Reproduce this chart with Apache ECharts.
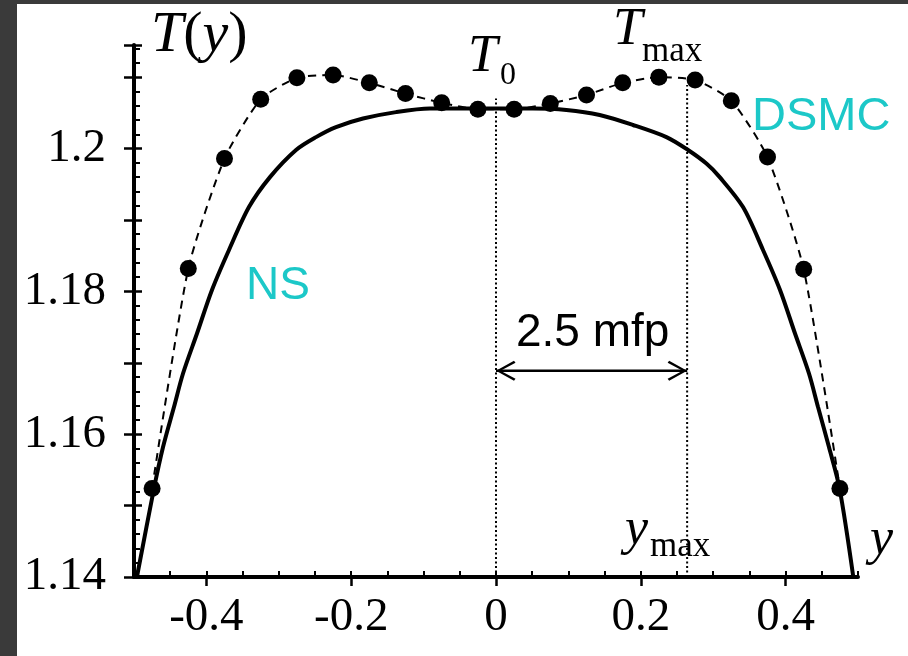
<!DOCTYPE html>
<html><head><meta charset="utf-8">
<script src="https://cdn.jsdelivr.net/npm/echarts@6/dist/echarts.min.js"></script>
<style>html,body{margin:0;padding:0;background:#fff}#c{width:908px;height:656px}</style>
</head><body><div id="c"></div>
<script>
// DSMC points
const dsmcX = [-0.475,-0.425,-0.375,-0.325,-0.275,-0.225,-0.175,-0.125,-0.075,-0.025,0.025,0.075,0.125,0.175,0.225,0.275,0.325,0.375,0.425,0.475];
const dsmcT = [1.1524,1.1832,1.1986,1.2069,1.2099,1.2103,1.2092,1.2077,1.2064,1.2055,1.2055,1.2063,1.2075,1.2092,1.2100,1.2096,1.2067,1.1988,1.1831,1.1524];
// Navier-Stokes curve
const nsX = [-0.496,-0.4724,-0.4599,-0.4448,-0.4323,-0.4130,-0.3923,-0.3688,-0.3412,-0.3122,-0.2762,-0.2486,-0.2210,-0.1837,-0.1381,-0.0912,-0.0456,0.0,0.0507,0.0972,0.1432,0.1892,0.2354,0.2652,0.2906,0.3090,0.3412,0.3688,0.3923,0.4130,0.4323,0.4448,0.4599,0.4745,0.4935];
const nsT = [1.1400,1.1524,1.1582,1.1638,1.1685,1.1741,1.1802,1.1858,1.1918,1.1960,1.1998,1.2016,1.2030,1.2042,1.2051,1.2056,1.2056,1.2056,1.2056,1.2054,1.2047,1.2033,1.2016,1.1998,1.1979,1.1960,1.1918,1.1858,1.1802,1.1741,1.1685,1.1638,1.1582,1.1524,1.1400];
// dotted guide lines and arrow
const t0LineX = [0,0];        const t0LineT = [1.14,1.2070];
const ymaxLineX = [0.264,0.264]; const ymaxLineT = [1.14,1.2089];
const arrowX = [0,0.264];     const arrowT = [1.1689,1.1689];
// tick labels
const xTickLabels = [-0.4,-0.2,0,0.2,0.4];
const yTickLabels = [1.14,1.16,1.18,1.2];

const pairs = (a,b) => a.map((v,i)=>[v,b[i]]);
const serif = 'Liberation Serif';
const cyan = '#1CC8C8';
// open chevron, tip at the centre of its box
const chevron = 'path://M0,0 L10,18 L8,19.5 L0,4.5 L-8,19.5 L-10,18 Z M0,-19.5 L0.01,-19.5 L0,-19.49 Z';

const chart = echarts.init(document.getElementById('c'), null, {renderer:'canvas'});
const baseX = {type:'value', min:-0.5, max:0.5, position:'bottom', splitLine:{show:false}};
const baseY = {type:'value', min:1.14, max:1.2145, position:'left', splitLine:{show:false}};
chart.setOption({
  animation:false,
  backgroundColor:'#fff',
  grid:{left:134, top:45, width:724, height:532, containLabel:false},
  xAxis:[
    Object.assign({}, baseX, {interval:0.05,
      axisLine:{onZero:false, lineStyle:{color:'#000', width:4}},
      axisTick:{inside:true, length:6, lineStyle:{color:'#000', width:2}},
      axisLabel:{show:false}}),
    Object.assign({}, baseX, {offset:0,
      axisLine:{show:false, onZero:false},
      axisTick:{show:true, inside:false, length:9, customValues:xTickLabels, lineStyle:{color:'#000', width:2.5}},
      axisLabel:{show:true, customValues:xTickLabels, margin:17, color:'#000', fontFamily:serif, fontSize:47,
        formatter:v=>String(Math.round(v*10)/10)}})
  ],
  yAxis:[
    Object.assign({}, baseY, {interval:0.01,
      axisLine:{onZero:false, lineStyle:{color:'#000', width:4}},
      axisTick:{inside:true, length:8, lineStyle:{color:'#000', width:2.5}},
      minorTick:{show:true, splitNumber:5, length:6, lineStyle:{color:'#000', width:2}},
      axisLabel:{show:false}}),
    Object.assign({}, baseY, {interval:0.01, offset:0,
      axisLine:{show:false, onZero:false},
      axisTick:{show:true, inside:false, length:10, lineStyle:{color:'#000', width:2.5}},
      axisLabel:{show:true, customValues:yTickLabels, margin:28, color:'#000', fontFamily:serif, fontSize:47,
        formatter:v=>String(Math.round(v*100)/100)}})
  ],
  series:[
    {type:'line', name:'t0', data:pairs(t0LineX,t0LineT), symbol:'none', silent:true,
      lineStyle:{color:'#000', width:2, type:[2,2.5]}},
    {type:'line', name:'ymax', data:pairs(ymaxLineX,ymaxLineT), symbol:'none', silent:true,
      lineStyle:{color:'#000', width:2, type:[2,2.5]}},
    {type:'line', name:'NS', data:pairs(nsX,nsT), symbol:'none', smooth:0.3,
      lineStyle:{color:'#000', width:4}},
    {type:'line', name:'DSMC', data:pairs(dsmcX,dsmcT), symbol:'circle', symbolSize:17, smooth:0.2,
      itemStyle:{color:'#000'}, lineStyle:{color:'#000', width:2, type:[8,6]}},
    {type:'line', name:'arrow', data:pairs(arrowX,arrowT), symbol:'none', silent:true,
      lineStyle:{color:'#000', width:2.2},
      markLine:{silent:true, symbol:[chevron, chevron], symbolSize:[20,39], label:{show:false},
        lineStyle:{color:'#000', width:2.2, type:'solid'},
        data:[[{coord:[arrowX[0],arrowT[0]]},{coord:[arrowX[1],arrowT[1]]}]]}}
  ],
  graphic:[
    {type:'rect', shape:{x:0,y:0,width:17,height:656}, style:{fill:'#3a3a3a'}, silent:true},
    {type:'rect', shape:{x:0,y:0,width:908,height:4}, style:{fill:'#3a3a3a'}, silent:true},
    {type:'text', x:151, y:36, style:{text:'{i|T}{n|(}{i|y}{n|)}', verticalAlign:'middle', fill:'#000',
      rich:{i:{fontFamily:serif, fontStyle:'italic', fontSize:58, fill:'#000'}, n:{fontFamily:serif, fontSize:58, fill:'#000'}}}},
    {type:'text', x:468, y:57, style:{text:'T', font:'italic 53px "Liberation Serif"', fill:'#000', verticalAlign:'middle'}},
    {type:'text', x:500, y:76, style:{text:'0', font:'32px "Liberation Serif"', fill:'#000', verticalAlign:'middle'}},
    {type:'text', x:613, y:30, style:{text:'T', font:'italic 53px "Liberation Serif"', fill:'#000', verticalAlign:'middle'}},
    {type:'text', x:642, y:52, style:{text:'max', font:'35px "Liberation Serif"', fill:'#000', verticalAlign:'middle'}},
    {type:'text', x:625, y:530, style:{text:'y', font:'italic 52px "Liberation Serif"', fill:'#000', verticalAlign:'middle'}},
    {type:'text', x:650, y:547, style:{text:'max', font:'35px "Liberation Serif"', fill:'#000', verticalAlign:'middle'}},
    {type:'text', x:870, y:540, style:{text:'y', font:'italic 52px "Liberation Serif"', fill:'#000', verticalAlign:'middle'}},
    {type:'text', x:752, y:117, style:{text:'DSMC', font:'47px "Liberation Sans"', fill:cyan, verticalAlign:'middle'}},
    {type:'text', x:246, y:286, style:{text:'NS', font:'46px "Liberation Sans"', fill:cyan, verticalAlign:'middle'}},
    {type:'text', x:516, y:333, style:{text:'2.5 mfp', font:'46px "Liberation Sans"', fill:'#000', verticalAlign:'middle'}}
  ]
});
</script></body></html>
